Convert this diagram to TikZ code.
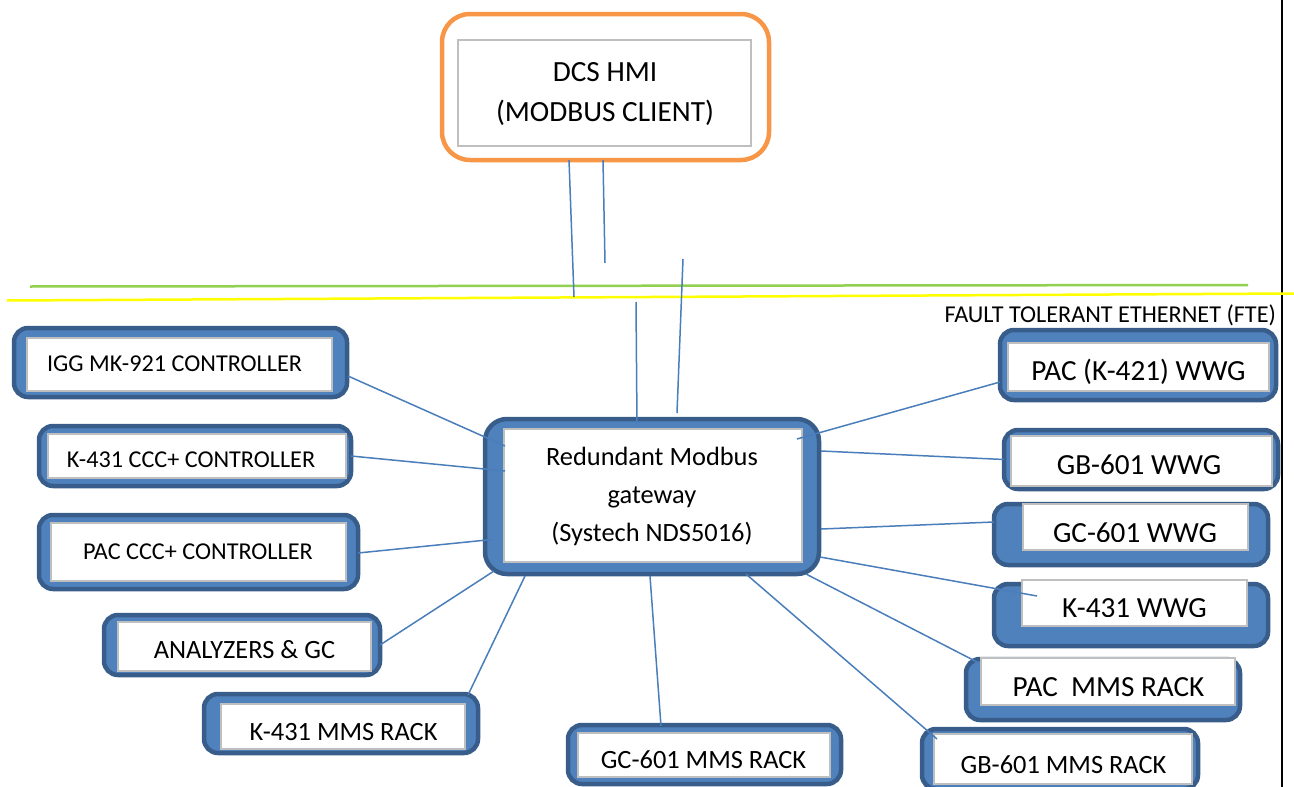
\documentclass[tikz,border=0pt]{standalone}
\usepackage{fontspec}
\setmainfont{Carlito}
\usetikzlibrary{calc}
\definecolor{boxfill}{HTML}{4F81BD}
\definecolor{boxedge}{HTML}{385D8A}
\definecolor{wire}{HTML}{4A7EBB}
\definecolor{hmiorange}{HTML}{F79646}
\definecolor{bevel}{HTML}{BFBFBF}
\definecolor{ftegreen}{HTML}{92D050}
\definecolor{fteyellow}{HTML}{FFFF00}
\begin{document}
\begin{tikzpicture}[x=1pt,y=-1pt,
  outerbox/.style={draw=boxedge, fill=boxfill, line width=4.5pt, rounded corners=14pt, outer sep=0pt, inner sep=0pt},
  innerbox/.style={draw=bevel, fill=white, line width=2.5pt, outer sep=0pt, inner sep=0pt},
  hmibox/.style={draw=hmiorange, fill=white, line width=4.5pt, rounded corners=28pt, outer sep=0pt, inner sep=0pt},
  hmiinner/.style={draw=bevel, fill=white, line width=2pt, outer sep=0pt, inner sep=0pt},
  lbl/.style={inner sep=0pt, outer sep=0pt, anchor=base, text=black},
  small/.style={lbl, font=\fontsize{24.2}{28}\selectfont},
  mid/.style={lbl, font=\fontsize{26.4}{31}\selectfont},
  big/.style={lbl, font=\fontsize{29.2}{34}\selectfont},
  wireline/.style={draw=wire, line width=1.5pt},
]
\useasboundingbox (0,0) rectangle (1294,787);
\clip (0,0) rectangle (1294,787);

% page border and network lines
\draw[line width=2.5pt] (1282,0) -- (1282,787);
\draw[ftegreen, line width=2.5pt] (30,286.5) -- (1248,285);
\draw[fteyellow, line width=2.5pt] (7,300.5) -- (1294,293.5);
\node[lbl, anchor=base east, font=\fontsize{24.2}{28}\selectfont] (fte) at (1276,322) {FAULT TOLERANT ETHERNET (FTE)};

% HMI
\node[hmibox, minimum width=327, minimum height=146] (hmi) at (605.5,87) {};
\node[hmiinner, minimum width=293, minimum height=106] (hmi-in) at (604.5,93) {};
\node[lbl, font=\fontsize{29.3}{34}\selectfont] (hmi-t1) at (605,81) {DCS HMI};
\node[lbl, font=\fontsize{29.3}{34}\selectfont] (hmi-t2) at (605,121) {(MODBUS CLIENT)};

% Gateway
\node[outerbox, minimum width=334, minimum height=155, rounded corners=22pt] (gw) at (652,496.5) {};
\node[innerbox, minimum width=298, minimum height=133] (gw-in) at (653,495.5) {};
\node[mid] (gw-t1) at (652,465) {Redundant Modbus};
\node[mid] (gw-t2) at (652,503) {gateway};
\node[mid] (gw-t3) at (652,541) {(Systech NDS5016)};

% Left boxes
\node[outerbox, minimum width=333, minimum height=69] (igg) at (180.5,362.5) {};
\node[innerbox, minimum width=305, minimum height=53] (igg-in) at (179.5,364.5) {};
\node[small] (igg-t) at (174.5,371) {IGG MK-921 CONTROLLER};

\node[outerbox, minimum width=312, minimum height=60] (k431c) at (195,456) {};
\node[innerbox, minimum width=298, minimum height=44] (k431c-in) at (197,456) {};
\node[small] (k431c-t) at (191,467) {K-431 CCC+ CONTROLLER};

\node[outerbox, minimum width=319, minimum height=74] (pacc) at (198.5,552) {};
\node[innerbox, minimum width=295, minimum height=58] (pacc-in) at (198.5,552) {};
\node[small] (pacc-t) at (198,559) {PAC CCC+ CONTROLLER};

\node[outerbox, minimum width=276, minimum height=60] (ana) at (242,645) {};
\node[innerbox, minimum width=253, minimum height=49] (ana-in) at (244.5,646.5) {};
\node[mid] (ana-t) at (244.5,658) {ANALYZERS \& GC};

\node[outerbox, minimum width=274, minimum height=59] (k431m) at (341,723.5) {};
\node[innerbox, minimum width=244, minimum height=45] (k431m-in) at (343,726.5) {};
\node[mid] (k431m-t) at (343.5,740) {K-431 MMS RACK};

\node[outerbox, minimum width=273, minimum height=59] (gc601m) at (704.5,754.5) {};
\node[innerbox, minimum width=252, minimum height=44] (gc601m-in) at (704,755) {};
\node[mid] (gc601m-t) at (703.5,768) {GC-601 MMS RACK};

% Right boxes
\node[outerbox, minimum width=276, minimum height=70] (pack) at (1138,365) {};
\node[innerbox, minimum width=261, minimum height=48] (pack-in) at (1138.5,367) {};
\node[big] (pack-t) at (1138.5,380) {PAC (K-421) WWG};

\node[outerbox, minimum width=274, minimum height=59] (gb601w) at (1141,459.5) {};
\node[innerbox, minimum width=261, minimum height=50] (gb601w-in) at (1141.5,461) {};
\node[big] (gb601w-t) at (1139,474) {GB-601 WWG};

\node[outerbox, minimum width=274, minimum height=61] (gc601w) at (1131,534.5) {};
\node[innerbox, minimum width=225, minimum height=46] (gc601w-in) at (1135.5,527) {};
\begin{scope}
\clip (1022,503) rectangle (1249,541);
\node[big] (gc601w-t) at (1135,542) {GC-601 WWG};
\end{scope}

\node[outerbox, minimum width=274, minimum height=62] (k431w) at (1131,615) {};
\node[innerbox, minimum width=225, minimum height=46] (k431w-in) at (1134.5,603) {};
\begin{scope}
\clip (1021,579) rectangle (1248,616);
\node[big] (k431w-t) at (1134.5,617) {K-431 WWG};
\end{scope}

\node[outerbox, minimum width=274, minimum height=61] (pacm) at (1103,689.5) {};
\node[innerbox, minimum width=254, minimum height=47] (pacm-in) at (1108,681.5) {};
\node[big] (pacm-t) at (1108.5,696) {PAC\ \ MMS RACK};

\node[outerbox, minimum width=276, minimum height=60] (gb601m) at (1060,759) {};
\node[innerbox, minimum width=258, minimum height=50] (gb601m-in) at (1063,759) {};
\node[mid] (gb601m-t) at (1063.5,773) {GB-601 MMS RACK};

% free ends of the uplink lines
\coordinate (up1) at (574,297);
\coordinate (up2) at (605,263);
\coordinate (up3) at (636,302);
\coordinate (up4) at (683,259);

% connectors
\draw[wireline] ($(hmi.south)+(-36.5,0)$) -- (up1);
\draw[wireline] ($(hmi.south)+(-2.5,0)$) -- (up2);
\draw[wireline] (up3) -- ($(gw.north)+(-15,5)$);
\draw[wireline] (up4) -- ($(gw.north)+(25,-6)$);

\draw[wireline] ($(igg.east)+(1,13.5)$) -- ($(gw.center)+(-147,-50.5)$);
\draw[wireline] (k431c.east) -- ($(gw.center)+(-147,-25.5)$);
\draw[wireline] ($(pacc.east)+(0,1)$) -- ($(gw.center)+(-160,43)$);
\draw[wireline] (ana.east) -- ($(gw.center)+(-158,74.5)$);
\draw[wireline] ($(k431m.north)+(127,1)$) -- ($(gw.center)+(-127,79.5)$);
\draw[wireline] ($(gc601m.north)+(-43.5,1)$) -- ($(gw.center)+(-2,79.5)$);
\draw[wireline] ($(gw.center)+(94,77.5)$) -- ($(gb601m.north west)+(15,10)$);
\draw[wireline] ($(gw.center)+(154,77.5)$) -- ($(pacm.north west)+(11,3)$);
\draw[wireline] ($(gw.center)+(168,60.5)$) -- ($(k431w.north west)+(43,12)$);
\draw[wireline] ($(gw.center)+(169,32.5)$) -- ($(gc601w.west)+(0,-12.5)$);
\draw[wireline] ($(gw.center)+(169,-45.5)$) -- (gb601w.west);
\draw[wireline] ($(pack.west)+(0,17)$) -- ($(gw.center)+(145,-57.5)$);
\end{tikzpicture}
\end{document}
